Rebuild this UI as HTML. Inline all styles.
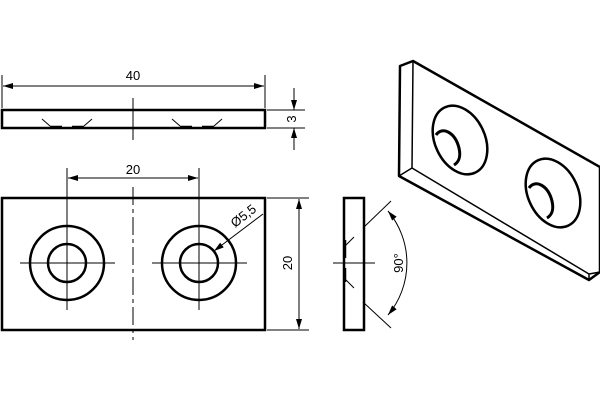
<!DOCTYPE html>
<html><head><style>body{margin:0;background:#fff}svg{display:block}text{font-family:"Liberation Sans",sans-serif;font-size:13px;fill:#000}</style></head>
<body>
<svg width="600" height="400" viewBox="0 0 600 400" xmlns="http://www.w3.org/2000/svg">
<defs><marker id="a" markerWidth="10" markerHeight="6" refX="10" refY="3" orient="auto-start-reverse" markerUnits="userSpaceOnUse"><path d="M0,0L10,3L0,6z" fill="#000"/></marker></defs>
<g stroke="#000" fill="none">
<!-- top view -->
<rect x="2" y="110" width="263" height="18" stroke-width="2.5"/>
<line x1="133" y1="98" x2="133" y2="140" stroke-width="1"/>
<line x1="2" y1="75" x2="2" y2="108" stroke-width="1"/>
<line x1="265" y1="75" x2="265" y2="108" stroke-width="1"/>
<line x1="3" y1="86" x2="264" y2="86" stroke-width="1" marker-start="url(#a)" marker-end="url(#a)"/>
<path d="M42,119L50,126M92,119L84,126M172,119L180,126M222,119L214,126" stroke-width="1"/>
<path d="M50,127H62M72,127H84M180,127H192M202,127H214" stroke-width="2.5"/>
<line x1="267" y1="110" x2="305" y2="110" stroke-width="1"/>
<line x1="267" y1="128" x2="305" y2="128" stroke-width="1"/>
<line x1="294" y1="88" x2="294" y2="110" stroke-width="1" marker-end="url(#a)"/>
<line x1="294" y1="150" x2="294" y2="128" stroke-width="1" marker-end="url(#a)"/>
<!-- front view -->
<rect x="2" y="198" width="263" height="132" stroke-width="2.5"/>
<line x1="133" y1="187" x2="133" y2="340" stroke-width="1" stroke-dasharray="18,4,4,4"/>
<circle cx="67" cy="263" r="37" stroke-width="2.5"/>
<circle cx="67" cy="263" r="19" stroke-width="2.5"/>
<circle cx="199" cy="263" r="37" stroke-width="2.5"/>
<circle cx="199" cy="263" r="19" stroke-width="2.5"/>
<path d="M20,263H115M67,168V310M152,263H247M199,168V310" stroke-width="1"/>
<line x1="68" y1="178" x2="198" y2="178" stroke-width="1" marker-start="url(#a)" marker-end="url(#a)"/>
<line x1="263" y1="214" x2="214" y2="251" stroke-width="1" marker-end="url(#a)"/>
<line x1="267" y1="198" x2="309" y2="198" stroke-width="1"/>
<line x1="267" y1="330" x2="309" y2="330" stroke-width="1"/>
<line x1="299" y1="199" x2="299" y2="329" stroke-width="1" marker-start="url(#a)" marker-end="url(#a)"/>
<!-- side view -->
<rect x="344" y="198" width="20" height="132" stroke-width="2.5"/>
<line x1="333" y1="263" x2="375" y2="263" stroke-width="1"/>
<path d="M345,246L354,237M345,279L354,288" stroke-width="1"/>
<path d="M345,240V258M345,268V282" stroke-width="2.5"/>
<path d="M363,228L391,201M363,302L391,328" stroke-width="1"/>
<path d="M388,211A81,81 0 0 1 388,315" stroke-width="1" marker-start="url(#a)" marker-end="url(#a)"/>
<!-- iso -->
<path d="M400,66L413,61L600,167L600,272L589,280L399,176Z" stroke-width="2.5" stroke-linejoin="round"/>
<path d="M413,61L412,168L399,176M412,168L589,274L589,280M589,274L600,272" stroke-width="1.5"/>
<ellipse cx="460" cy="140" rx="25" ry="36" transform="rotate(-25 460 140)" stroke-width="2.5"/>
<path d="M436,135C442,126 455,132 459,148C461,157 459,162 454,165" stroke-width="3"/>
<ellipse cx="553" cy="193" rx="25" ry="36" transform="rotate(-25 553 193)" stroke-width="2.5"/>
<path d="M529,188C535,179 548,185 552,201C554,210 552,215 547,218" stroke-width="3"/>
</g>
<text x="133" y="80" text-anchor="middle">40</text>
<text x="133" y="174" text-anchor="middle">20</text>
<text transform="translate(292,119) rotate(-90)" text-anchor="middle" dy="4">3</text>
<text transform="translate(292,263) rotate(-90)" text-anchor="middle">20</text>
<text transform="translate(235,228) rotate(-38)">Ø5,5</text>
<text transform="translate(403,263) rotate(-90)" text-anchor="middle">90°</text>
</svg>
</body></html>
